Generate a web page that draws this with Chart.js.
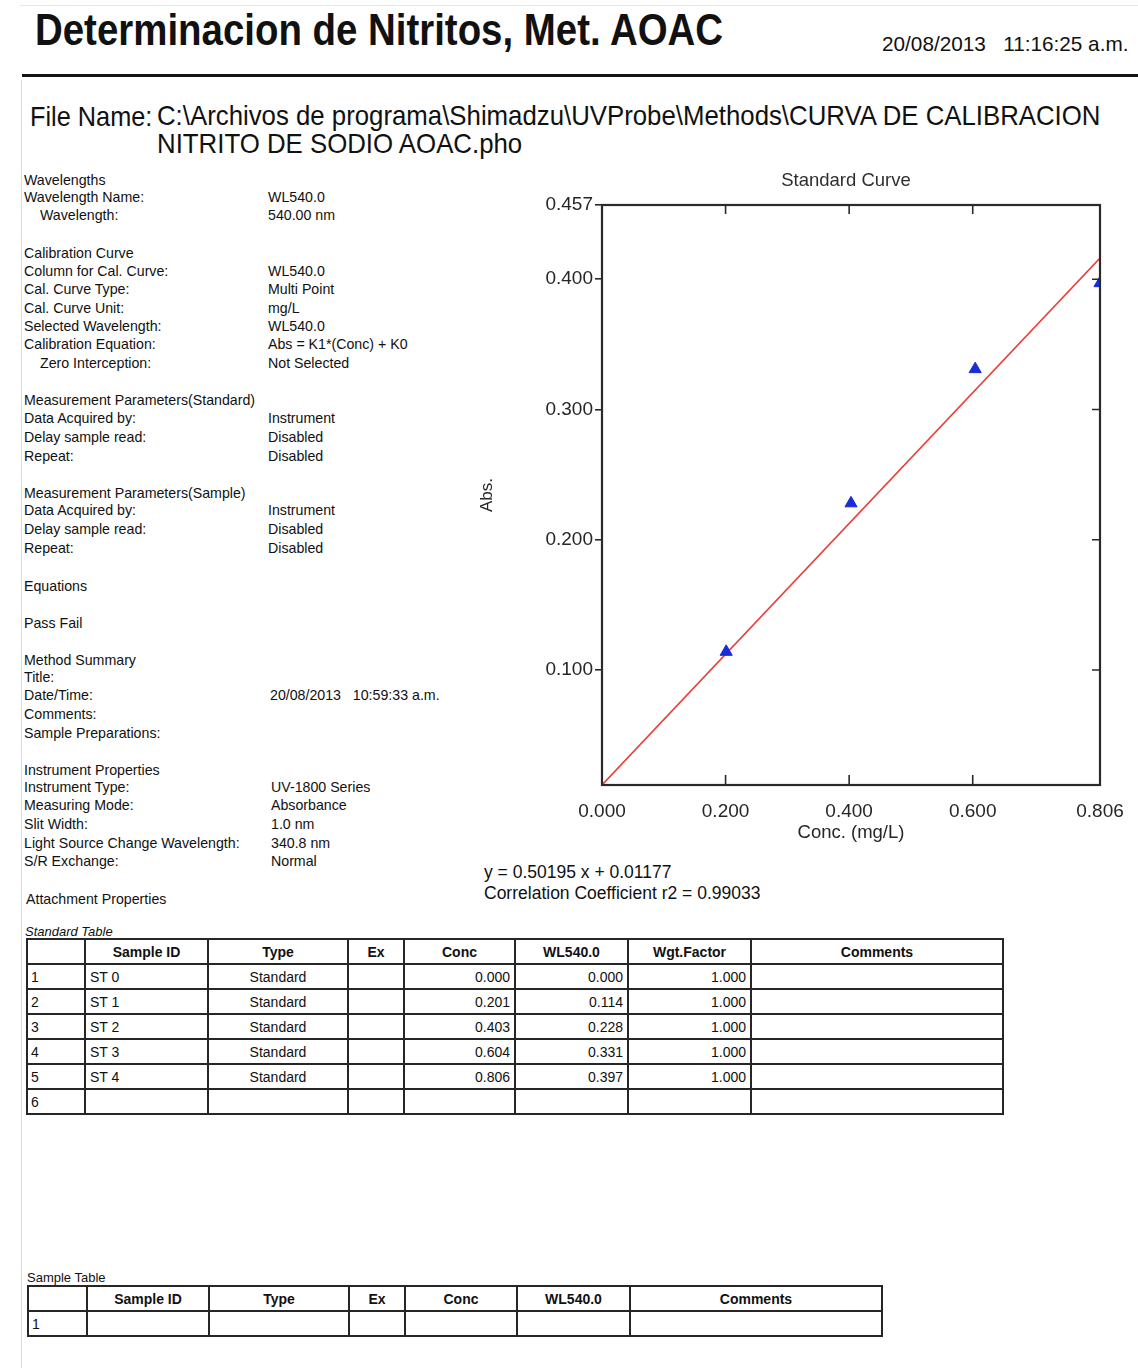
<!DOCTYPE html>
<html>
<head>
<meta charset="utf-8">
<title>Determinacion de Nitritos, Met. AOAC</title>
<script src="https://cdn.jsdelivr.net/npm/chart.js@4.4.1/dist/chart.umd.min.js"></script>
<style>
  html, body { margin: 0; padding: 0; background: #fff; }
  body {
    width: 1138px; height: 1368px; position: relative; overflow: hidden;
    font-family: "Liberation Sans", Arial, Helvetica, sans-serif; color: #111;
  }
  .t { position: absolute; white-space: nowrap; line-height: 1.15; transform-origin: 0 50%; }
  .frame-left { position: absolute; left: 21px; top: 80px; width: 1px; height: 1288px; background: #dcdcdc; }
  .frame-top { position: absolute; left: 20px; top: 5px; width: 1118px; height: 1px; background: #e6e6e6; }
  .rule { position: absolute; left: 22px; top: 74px; width: 1116px; height: 3px; background: #141414; }
  .small { font-size: 14.2px; }
  #chartBox { position: absolute; left: 470px; top: 160px; width: 668px; height: 700px; }
  table.grid {
    position: absolute; border-collapse: collapse; table-layout: fixed;
    font-size: 14px; color: #111;
  }
  table.grid td, table.grid th {
    border: 2px solid #262626; padding: 0 4px; height: 23px; overflow: hidden; white-space: nowrap;
  }
  table.grid th { font-weight: bold; text-align: center; }
  table.grid td.num { text-align: right; }
  table.grid td.mid { text-align: center; }
  table.grid td.idx { padding-left: 3px; }
</style>
</head>
<body>
<div class="frame-top"></div>
<div class="frame-left"></div>

<!-- Report header -->
<div class="t" data-x="35" data-y="30" data-w="688" style="font-size:44px;font-weight:bold;">Determinacion de Nitritos, Met. AOAC</div>
<div class="t" data-x="882" data-y="44" data-w="246" style="font-size:21px;">20/08/2013&nbsp;&nbsp;&nbsp;11:16:25 a.m.</div>
<div class="rule"></div>
<div class="t" data-x="30" data-y="117" data-w="122" style="font-size:28px;">File Name:</div>
<div class="t" data-x="157" data-y="116" data-w="943" style="font-size:28px;">C:\Archivos de programa\Shimadzu\UVProbe\Methods\CURVA DE CALIBRACION</div>
<div class="t" data-x="157" data-y="144" data-w="365" style="font-size:28px;">NITRITO DE SODIO AOAC.pho</div>

<!-- Method parameters -->
<div class="t small" data-x="24" data-y="180">Wavelengths</div>
<div class="t small" data-x="24" data-y="197">Wavelength Name:</div><div class="t small" data-x="268" data-y="197">WL540.0</div>
<div class="t small" data-x="40" data-y="215">Wavelength:</div><div class="t small" data-x="268" data-y="215">540.00 nm</div>

<div class="t small" data-x="24" data-y="253">Calibration Curve</div>
<div class="t small" data-x="24" data-y="271">Column for Cal. Curve:</div><div class="t small" data-x="268" data-y="271">WL540.0</div>
<div class="t small" data-x="24" data-y="289">Cal. Curve Type:</div><div class="t small" data-x="268" data-y="289">Multi Point</div>
<div class="t small" data-x="24" data-y="308">Cal. Curve Unit:</div><div class="t small" data-x="268" data-y="308">mg/L</div>
<div class="t small" data-x="24" data-y="326">Selected Wavelength:</div><div class="t small" data-x="268" data-y="326">WL540.0</div>
<div class="t small" data-x="24" data-y="344">Calibration Equation:</div><div class="t small" data-x="268" data-y="344">Abs = K1*(Conc) + K0</div>
<div class="t small" data-x="40" data-y="363">Zero Interception:</div><div class="t small" data-x="268" data-y="363">Not Selected</div>

<div class="t small" data-x="24" data-y="400">Measurement Parameters(Standard)</div>
<div class="t small" data-x="24" data-y="418">Data Acquired by:</div><div class="t small" data-x="268" data-y="418">Instrument</div>
<div class="t small" data-x="24" data-y="437">Delay sample read:</div><div class="t small" data-x="268" data-y="437">Disabled</div>
<div class="t small" data-x="24" data-y="456">Repeat:</div><div class="t small" data-x="268" data-y="456">Disabled</div>

<div class="t small" data-x="24" data-y="493">Measurement Parameters(Sample)</div>
<div class="t small" data-x="24" data-y="510">Data Acquired by:</div><div class="t small" data-x="268" data-y="510">Instrument</div>
<div class="t small" data-x="24" data-y="529">Delay sample read:</div><div class="t small" data-x="268" data-y="529">Disabled</div>
<div class="t small" data-x="24" data-y="548">Repeat:</div><div class="t small" data-x="268" data-y="548">Disabled</div>

<div class="t small" data-x="24" data-y="586">Equations</div>
<div class="t small" data-x="24" data-y="623">Pass Fail</div>

<div class="t small" data-x="24" data-y="660">Method Summary</div>
<div class="t small" data-x="24" data-y="677">Title:</div>
<div class="t small" data-x="24" data-y="695">Date/Time:</div><div class="t small" data-x="270" data-y="695">20/08/2013&nbsp;&nbsp;&nbsp;10:59:33 a.m.</div>
<div class="t small" data-x="24" data-y="714">Comments:</div>
<div class="t small" data-x="24" data-y="733">Sample Preparations:</div>

<div class="t small" data-x="24" data-y="770">Instrument Properties</div>
<div class="t small" data-x="24" data-y="787">Instrument Type:</div><div class="t small" data-x="271" data-y="787">UV-1800 Series</div>
<div class="t small" data-x="24" data-y="805">Measuring Mode:</div><div class="t small" data-x="271" data-y="805">Absorbance</div>
<div class="t small" data-x="24" data-y="824">Slit Width:</div><div class="t small" data-x="271" data-y="824">1.0 nm</div>
<div class="t small" data-x="24" data-y="843">Light Source Change Wavelength:</div><div class="t small" data-x="271" data-y="843">340.8 nm</div>
<div class="t small" data-x="24" data-y="861">S/R Exchange:</div><div class="t small" data-x="271" data-y="861">Normal</div>

<div class="t small" data-x="26" data-y="899">Attachment Properties</div>

<!-- Calibration plot -->
<div id="chartBox"><canvas id="curve" width="668" height="700"></canvas></div>

<div class="t" id="eqLine" data-x="484" data-y="872" style="font-size:17.5px;"></div>
<div class="t" id="r2Line" data-x="484" data-y="893" style="font-size:17.5px;"></div>

<!-- Tables -->
<div class="t" data-x="25" data-y="932" style="font-size:13px;font-style:italic;">Standard Table</div>
<table class="grid" id="stdTable" style="left:26px;top:938px;width:976px;"></table>

<div class="t" data-x="27" data-y="1278" style="font-size:13px;">Sample Table</div>
<table class="grid" id="smpTable" style="left:27px;top:1285px;width:854px;"></table>

<script>
// Standard series: concentration (mg/L) and absorbance at 540 nm
const sampleIds   = ['ST 0', 'ST 1', 'ST 2', 'ST 3', 'ST 4'];
const sampleTypes = ['Standard', 'Standard', 'Standard', 'Standard', 'Standard'];
const concVals    = [0.000, 0.201, 0.403, 0.604, 0.806];
const absVals     = [0.000, 0.114, 0.228, 0.331, 0.397];
const wgtFactors  = [1.000, 1.000, 1.000, 1.000, 1.000];

// Least-squares fit line endpoints (y = 0.50195 x + 0.01177)
const fitConc = [0.000, 0.806];
const fitAbs  = [0.01177, 0.41634];
const eqText  = 'y = 0.50195 x + 0.01177';
const r2Text  = 'Correlation Coefficient r2 = 0.99033';
const plotTitle = 'Standard Curve';

// Axis ticks
const xTickVals = [0.000, 0.200, 0.400, 0.600, 0.806];
const yTickVals = [0.100, 0.200, 0.300, 0.400, 0.457];
const xRange = [0.000, 0.806];
const yRange = [0.01177, 0.457];

const stdHeaders = ['', 'Sample ID', 'Type', 'Ex', 'Conc', 'WL540.0', 'Wgt.Factor', 'Comments'];
const stdColWidths = [58, 123, 140, 56, 111, 113, 123, 252];
const smpHeaders = ['', 'Sample ID', 'Type', 'Ex', 'Conc', 'WL540.0', 'Comments'];
const smpColWidths = [59, 122, 140, 56, 112, 113, 252];

document.getElementById('eqLine').textContent = eqText;
document.getElementById('r2Line').textContent = r2Text;

function colgroup(widths) {
  return '<colgroup>' + widths.map(w => '<col style="width:' + w + 'px">').join('') + '</colgroup>';
}

// Standard table rows come from the same arrays as the plot
(function buildStdTable() {
  let html = colgroup(stdColWidths);
  html += '<tr>' + stdHeaders.map(h => '<th>' + h + '</th>').join('') + '</tr>';
  for (let i = 0; i < sampleIds.length; i++) {
    html += '<tr><td class="idx">' + (i + 1) + '</td><td>' + sampleIds[i] + '</td>' +
      '<td class="mid">' + sampleTypes[i] + '</td><td></td>' +
      '<td class="num">' + concVals[i].toFixed(3) + '</td>' +
      '<td class="num">' + absVals[i].toFixed(3) + '</td>' +
      '<td class="num">' + wgtFactors[i].toFixed(3) + '</td><td></td></tr>';
  }
  html += '<tr><td class="idx">' + (sampleIds.length + 1) + '</td>' + '<td></td>'.repeat(7) + '</tr>';
  document.getElementById('stdTable').innerHTML = html;
})();

(function buildSampleTable() {
  let html = colgroup(smpColWidths);
  html += '<tr>' + smpHeaders.map(h => '<th>' + h + '</th>').join('') + '</tr>';
  html += '<tr><td class="idx">1</td>' + '<td></td>'.repeat(6) + '</tr>';
  document.getElementById('smpTable').innerHTML = html;
})();

// Place text blocks by left edge and vertical centre; optionally squeeze to a width
document.querySelectorAll('.t').forEach(el => {
  const x = parseFloat(el.dataset.x), y = parseFloat(el.dataset.y);
  el.style.left = x + 'px';
  el.style.top = (y - el.offsetHeight / 2) + 'px';
  if (el.dataset.w) {
    const k = parseFloat(el.dataset.w) / el.offsetWidth;
    el.style.transform = 'scaleX(' + k.toFixed(4) + ')';
  }
});

// Box frame with inward tick marks on the top, right and bottom sides,
// plus the plot title centred over the plotting area
const frameTicks = {
  id: 'frameTicks',
  afterDatasetsDraw(chart) {
    const { ctx, chartArea: a, scales: { x, y } } = chart;
    ctx.save();
    ctx.strokeStyle = '#2a2a2a';
    ctx.lineWidth = 1.6;
    ctx.beginPath();
    xTickVals.slice(1, -1).forEach(v => {
      const px = x.getPixelForValue(v);
      ctx.moveTo(px, a.top); ctx.lineTo(px, a.top + 9);
      ctx.moveTo(px, a.bottom); ctx.lineTo(px, a.bottom - 10);
    });
    yTickVals.slice(0, -1).forEach(v => {
      const py = y.getPixelForValue(v);
      ctx.moveTo(a.right, py); ctx.lineTo(a.right - 8, py);
    });
    ctx.stroke();
    ctx.lineWidth = 2.2;
    ctx.strokeRect(a.left, a.top, a.right - a.left, a.bottom - a.top);

    ctx.fillStyle = '#2e2e2e';
    ctx.font = '18.5px "Liberation Sans", Arial, sans-serif';
    ctx.textAlign = 'center';
    ctx.textBaseline = 'middle';
    ctx.fillText(plotTitle, (a.left + a.right) / 2 - 5, a.top - 24);
    ctx.restore();
  }
};

Chart.defaults.font.family = '"Liberation Sans", Arial, sans-serif';
Chart.defaults.color = '#262626';

new Chart(document.getElementById('curve'), {
  type: 'scatter',
  data: {
    datasets: [
      {
        label: 'Fit',
        data: fitConc.map((c, i) => ({ x: c, y: fitAbs[i] })),
        showLine: true,
        borderColor: '#e8403a',
        borderWidth: 1.6,
        pointRadius: 0,
        clip: 0,
        order: 2
      },
      {
        label: 'Standards',
        data: concVals.map((c, i) => ({ x: c, y: absVals[i] })),
        pointStyle: 'triangle',
        pointRadius: 7,
        backgroundColor: '#1a2cd8',
        borderColor: '#1a2cd8',
        borderWidth: 1,
        clip: 0,
        order: 1
      }
    ]
  },
  options: {
    responsive: false,
    animation: false,
    layout: { padding: { left: 0, right: 38, top: 45, bottom: 0 } },
    plugins: {
      legend: { display: false },
      tooltip: { enabled: false },
      title: { display: false }
    },
    scales: {
      x: {
        type: 'linear',
        min: xRange[0],
        max: xRange[1],
        afterBuildTicks: s => { s.ticks = xTickVals.map(v => ({ value: v })); },
        afterFit: s => { s.height = 75; },
        grid: { display: false },
        border: { display: false },
        ticks: {
          padding: 7,
          font: { size: 19 },
          callback: v => Number(v).toFixed(3),
          maxRotation: 0,
          autoSkip: false
        },
        title: {
          display: true,
          text: 'Conc. (mg/L)',
          font: { size: 18.5 },
          padding: { top: 0, bottom: 16 }
        }
      },
      y: {
        type: 'linear',
        min: yRange[0],
        max: yRange[1],
        afterBuildTicks: s => { s.ticks = yTickVals.map(v => ({ value: v })); },
        afterFit: s => { s.width = 132; },
        grid: {
          display: true,
          drawOnChartArea: false,
          drawTicks: true,
          tickLength: 7,
          color: '#2a2a2a',
          lineWidth: 1.6
        },
        border: { display: false },
        ticks: {
          padding: 2,
          font: { size: 19 },
          callback: v => Number(v).toFixed(3),
          autoSkip: false
        },
        title: {
          display: true,
          text: 'Abs.',
          font: { size: 17 },
          padding: { top: 7, bottom: 0 }
        }
      }
    }
  },
  plugins: [frameTicks]
});
</script>
</body>
</html>
